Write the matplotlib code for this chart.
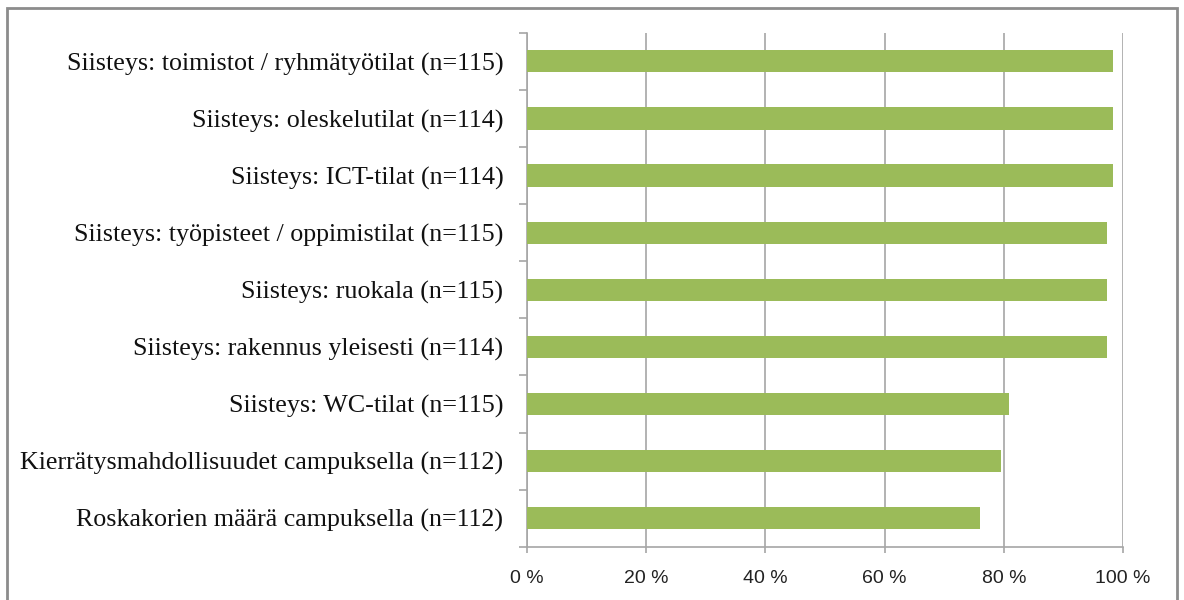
import matplotlib.pyplot as plt
import matplotlib.patches as patches
import numpy as np

# kategoriat ylhäältä alas
labels = [
    "Siisteys: toimistot / ryhmätyötilat (n=115)",
    "Siisteys: oleskelutilat (n=114)",
    "Siisteys: ICT-tilat (n=114)",
    "Siisteys: työpisteet / oppimistilat (n=115)",
    "Siisteys: ruokala (n=115)",
    "Siisteys: rakennus yleisesti (n=114)",
    "Siisteys: WC-tilat (n=115)",
    "Kierrätysmahdollisuudet campuksella (n=112)",
    "Roskakorien määrä campuksella (n=112)",
]
values = [98.3, 98.3, 98.3, 97.3, 97.3, 97.3, 80.8, 79.5, 76.0]
xticks = [0, 20, 40, 60, 80, 100]
xticklabels = ["0 %", "20 %", "40 %", "60 %", "80 %", "100 %"]

fig = plt.figure(figsize=(11.84, 6.0), dpi=100)
ax = fig.add_axes([527 / 1184, 1 - 546.7 / 600, (1123 - 527) / 1184, (546.7 - 32.8) / 600])

y = np.arange(len(labels))[::-1]
ax.barh(y, values, height=0.39, color="#9BBB59", zorder=3)

ax.set_xlim(0, 100)
ax.set_ylim(-0.5, len(labels) - 0.5)

# pystysuorat apuviivat
ax.set_xticks(xticks)
ax.set_xticklabels(xticklabels, fontsize=14, family="Liberation Sans", color="#222222")
ax.grid(axis="x", color="#A6A6A6", linewidth=1.2, zorder=0)
ax.tick_params(axis="x", length=4.5, width=1.2, color="#A6A6A6", pad=12)

ax.set_yticks(y)
ax.set_yticklabels(labels, fontsize=18.7, family="Liberation Serif", color="#111111")
ax.set_yticks(np.arange(-0.5, len(labels), 1.0), minor=True)
ax.tick_params(axis="y", which="major", length=0, pad=17)
ax.tick_params(axis="y", which="minor", length=6, width=1.2, color="#A6A6A6")

for s in ["top", "right"]:
    ax.spines[s].set_visible(False)
for s in ["left", "bottom"]:
    ax.spines[s].set_color("#A6A6A6")
    ax.spines[s].set_linewidth(1.2)

# kuvan reunus
border = patches.Rectangle((7 / 1184, -0.1), (1177 - 7) / 1184, 1 - 8 / 600 + 0.1,
                           transform=fig.transFigure, fill=False,
                           edgecolor="#8C8C8C", linewidth=2, clip_on=False)
fig.patches.append(border)

fig.savefig("out.png", dpi=100)
